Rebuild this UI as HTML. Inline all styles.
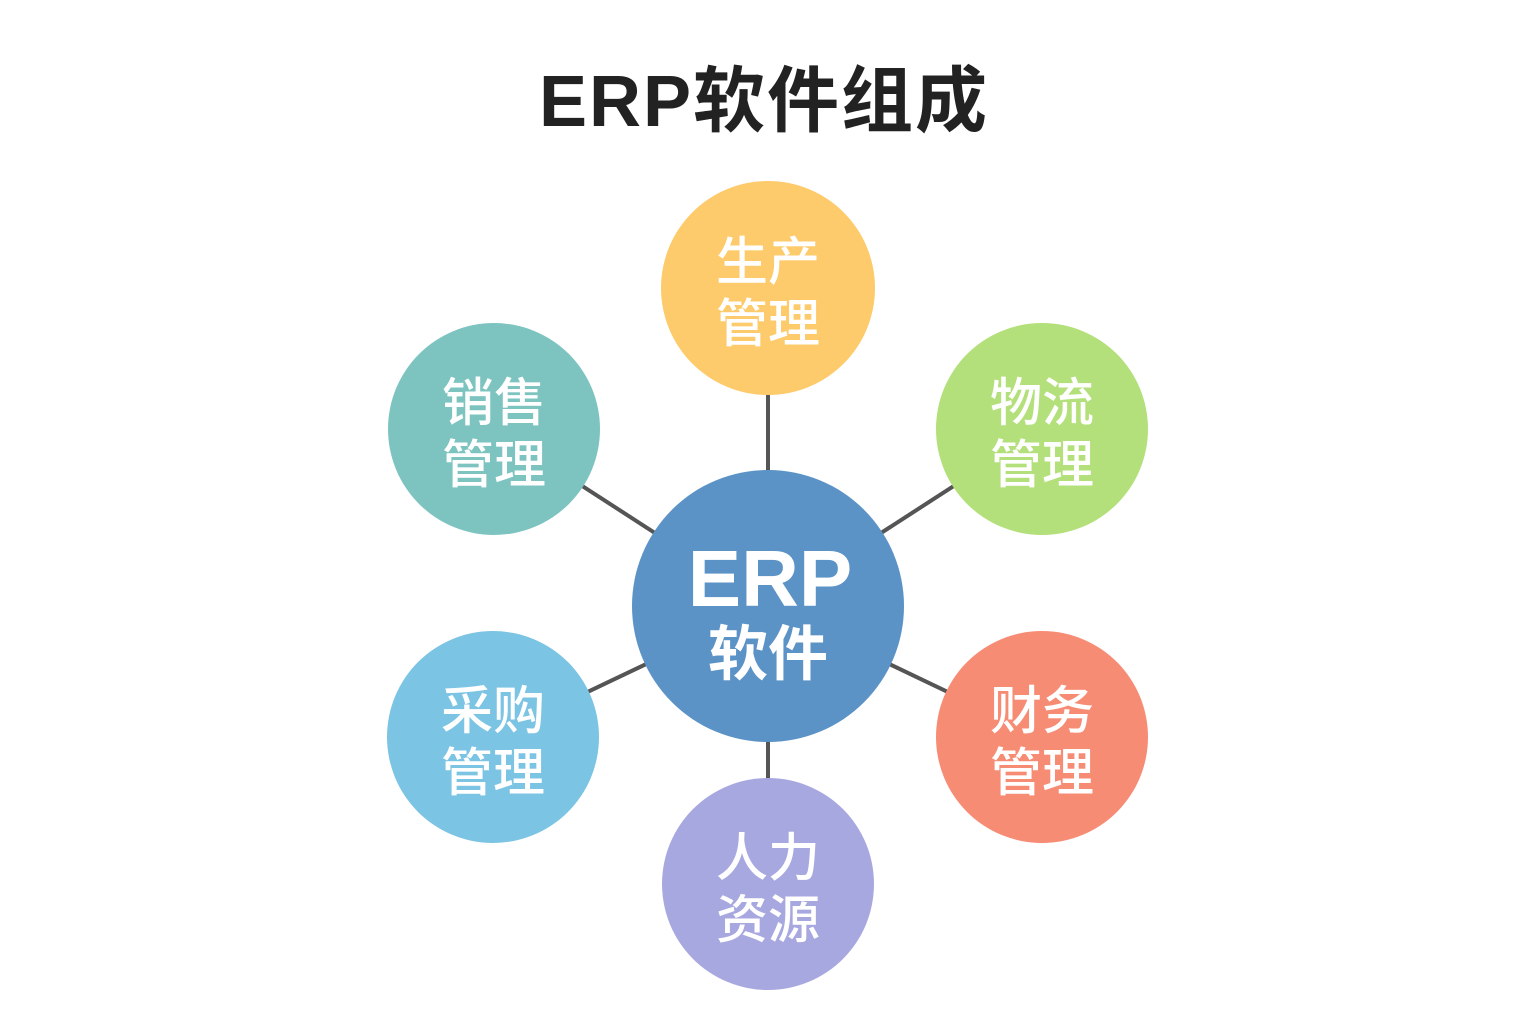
<!DOCTYPE html>
<html><head><meta charset="utf-8"><style>
html,body{margin:0;padding:0;background:#fff;}
svg text{font-family:"Liberation Sans","Noto Sans CJK SC",sans-serif;}
</style></head><body>
<svg width="1536" height="1024" viewBox="0 0 1536 1024" xmlns="http://www.w3.org/2000/svg">
<rect width="1536" height="1024" fill="#fff"/>
<text x="764" y="126" text-anchor="middle" font-size="72" font-weight="bold" fill="#222" letter-spacing="2">ERP软件组成</text>
<g stroke="#555" stroke-width="4">
<line x1="768" y1="606" x2="768" y2="288"/>
<line x1="768" y1="606" x2="768" y2="884"/>
<line x1="768" y1="606" x2="494" y2="429"/>
<line x1="768" y1="606" x2="1042" y2="429"/>
<line x1="768" y1="606" x2="493" y2="737"/>
<line x1="768" y1="606" x2="1042" y2="737"/>
</g>
<circle cx="768" cy="288" r="107" fill="#FDCB6B"/>
<circle cx="494" cy="429" r="106" fill="#7DC4C0"/>
<circle cx="1042" cy="429" r="106" fill="#B3E07A"/>
<circle cx="493" cy="737" r="106" fill="#7CC4E4"/>
<circle cx="1042" cy="737" r="106" fill="#F78C75"/>
<circle cx="768" cy="884" r="106" fill="#A8A8E0"/>
<circle cx="768" cy="606" r="136" fill="#5B93C7"/>
<g fill="#fff" font-size="52" font-weight="500" text-anchor="middle">
<text x="768" y="280">生产</text><text x="768" y="342">管理</text>
<text x="494" y="421">销售</text><text x="494" y="483">管理</text>
<text x="1042" y="421">物流</text><text x="1042" y="483">管理</text>
<text x="493" y="729">采购</text><text x="493" y="791">管理</text>
<text x="1042" y="729">财务</text><text x="1042" y="791">管理</text>
<text x="768" y="876">人力</text><text x="768" y="938">资源</text>
<text x="770" y="606" font-size="80" font-weight="bold">ERP</text>
<text x="768" y="675" font-size="60" font-weight="bold">软件</text>
</g>
</svg>
</body></html>
